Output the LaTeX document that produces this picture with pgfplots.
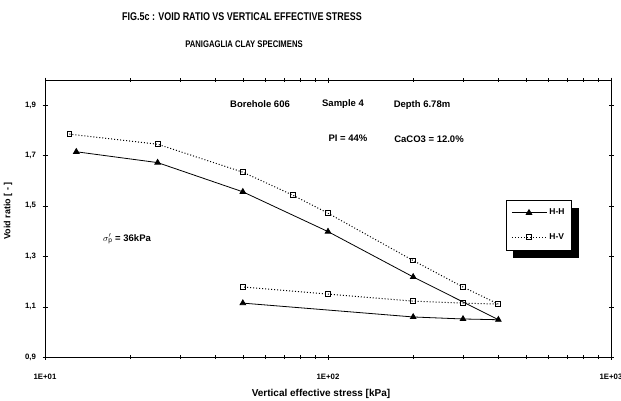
\documentclass[border=0pt]{standalone}
\usepackage{pgfplots}
\pgfplotsset{compat=1.18}
\usepackage{fontspec}
\setmainfont{Liberation Sans}
\newfontfamily\cond{Liberation Sans}[FakeStretch=0.8]
\usetikzlibrary{backgrounds}
\begin{document}
\begin{tikzpicture}[x=1pt,y=1pt]
\path[use as bounding box] (0,0) rectangle (621,400);
\begin{axis}[
  at={(45pt,43pt)}, anchor=south west,
  scale only axis, width=566pt, height=277pt,
  xmode=log, xmin=10, xmax=1000, ymin=0.9, ymax=2.0,
  xtick={10,100,1000}, xticklabels={1E+01,1E+02,1E+03},
  minor xtick={20,30,40,50,60,70,80,90,200,300,400,500,600,700,800,900},
  ytick={0.9,1.1,1.3,1.5,1.7,1.9},
  yticklabel={\pgfmathprintnumber[fixed,precision=1,fixed zerofill,use comma,assume math mode=true]{\tick}},
  tick align=center, major tick length=5pt, minor tick length=4pt,
  ytick style={black}, xtick style={black},
  axis line style={black, line width=0.8pt},
  ticklabel style={font=\bfseries\fontsize{7.8}{9}\selectfont},
  xticklabel style={yshift=-11pt},
  yticklabel style={xshift=-3pt},
  clip=false,
  legend style={name=leg, at={(0.815,0.567)}, anchor=north west, draw=black, fill=white,
    font=\bfseries\fontsize{8.5}{10}\selectfont,
    inner xsep=5pt, inner ysep=7pt, row sep=13pt,
    nodes={inner sep=2pt}},
  legend cell align=left,
  legend image code/.code={\draw[mark repeat=2, mark phase=2, #1] plot coordinates {(0pt,0pt) (17pt,0pt) (35pt,0pt)};},
]
\addplot[black, line width=0.8pt, mark=triangle*, mark size=3.2pt, mark options={solid, fill=black}]
coordinates {(12.9,1.715) (25,1.672) (50,1.556) (100,1.398) (200,1.218) (400,1.048) (300,1.051) (200,1.059) (50,1.114)};
\addlegendentry{H-H}
\addplot[black, line width=1pt, dotted, mark=square, mark size=2.4pt, mark options={solid, line width=1pt, fill=white}]
coordinates {(12.2,1.785) (25,1.745) (50,1.634) (75,1.543) (100,1.471) (200,1.283) (300,1.178) (400,1.110) (300,1.114) (200,1.122) (100,1.150) (50,1.178)};
\addlegendentry{H-V}
\end{axis}
\begin{pgfonlayer}{background}
\fill[black] ([xshift=7pt,yshift=-8pt]leg.south west) rectangle ([xshift=7pt,yshift=-8pt]leg.north east);
\end{pgfonlayer}
\node[font=\cond\bfseries\fontsize{11.2}{13}\selectfont] at (242,383) {FIG.5c : VOID RATIO VS VERTICAL EFFECTIVE STRESS};
\node[font=\cond\bfseries\fontsize{9.6}{11}\selectfont] at (244,356) {PANIGAGLIA CLAY SPECIMENS};
\node[font=\bfseries\fontsize{9.5}{11}\selectfont] at (260,296) {Borehole 606};
\node[font=\bfseries\fontsize{9.5}{11}\selectfont] at (343,296) {Sample 4};
\node[font=\bfseries\fontsize{9.5}{11}\selectfont] at (422,295) {Depth 6.78m};
\node[font=\bfseries\fontsize{9.5}{11}\selectfont] at (348,262) {PI = 44\%};
\node[font=\bfseries\fontsize{9.5}{11}\selectfont] at (429,261) {CaCO3 = 12.0\%};
\node[font=\bfseries\fontsize{9.5}{11}\selectfont] at (127,161) {$\sigma'_{\mathrm{p}}$ = 36kPa};
\node[font=\bfseries\fontsize{9}{10}\selectfont, rotate=90] at (8,189) {Void ratio [ - ]};
\node[font=\bfseries\fontsize{10}{12}\selectfont] at (321,6) {Vertical effective stress [kPa]};
\end{tikzpicture}
\end{document}
